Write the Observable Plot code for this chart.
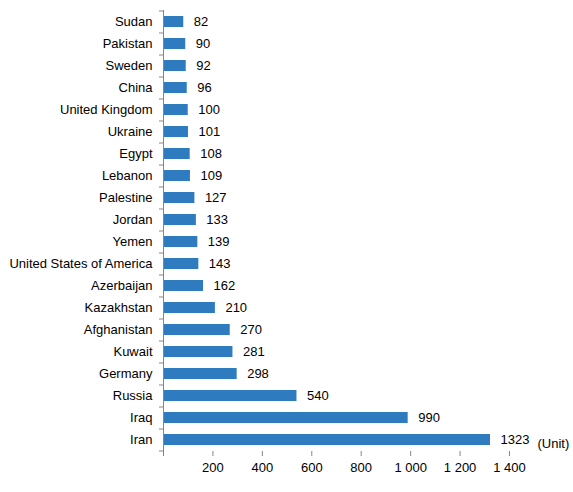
<!DOCTYPE html>
<html>
<head>
<meta charset="utf-8">
<script src="https://cdn.jsdelivr.net/npm/d3@7"></script>
<script src="https://cdn.jsdelivr.net/npm/@observablehq/plot@0.6"></script>
<style>
  body { margin: 0; background: #fff; }
  #chart svg { font-family: Arial, "Liberation Sans", sans-serif; }
</style>
</head>
<body>
<div id="chart"></div>
<script>
// countries top to bottom, with their counts
let countries = ["Sudan", "Pakistan", "Sweden", "China", "United Kingdom", "Ukraine", "Egypt",
  "Lebanon", "Palestine", "Jordan", "Yemen", "United States of America", "Azerbaijan",
  "Kazakhstan", "Afghanistan", "Kuwait", "Germany", "Russia", "Iraq", "Iran"]
let values = [82, 90, 92, 96, 100, 101, 108, 109, 127, 133, 139, 143, 162, 210, 270, 281, 298, 540, 990, 1323]
let xTicks = [0, 200, 400, 600, 800, 1000, 1200, 1400]
let unitLabel = "(Unit)"

let data = countries.map((c, i) => ({country: c, value: values[i]}))

const fmt = d3.formatLocale({decimal: ".", thousands: " ", grouping: [3], currency: ["", ""]}).format(",")
const grey = "#868686"

let chart = Plot.plot({
  width: 573,
  height: 492,
  marginLeft: 163,
  marginRight: 64,
  marginTop: 10,
  marginBottom: 41,
  style: {fontSize: "13px", color: "#000"},
  x: {domain: [0, 1400]},
  y: {domain: countries, paddingInner: 0.5, paddingOuter: 0.25},
  marks: [
    Plot.barX(data, {x: "value", y: "country", fill: "#2f7bbf"}),
    Plot.text(data, {x: "value", y: "country", text: d => String(d.value), dx: 10, textAnchor: "start", fontSize: 13, fill: "#000"}),
    // country labels
    Plot.axisY({tickSize: 0, tickPadding: 11, label: null, fontSize: 13, fill: "#000"}),
    // ticks at category boundaries
    Plot.axisY({tickSize: 4, tickFormat: null, dy: -11, stroke: grey, label: null}),
    Plot.axisY({ticks: [countries[countries.length - 1]], tickSize: 4, tickFormat: null, dy: 11, stroke: grey, label: null}),
    Plot.ruleX([0], {stroke: grey}),
    Plot.axisX({ticks: xTicks, tickSize: 5, tickPadding: 6, stroke: grey, line: true, label: null,
      tickFormat: d => d === 0 ? "" : fmt(d), fontSize: 13, fill: "#000"}),
    Plot.text([unitLabel], {frameAnchor: "bottom-right", textAnchor: "start", dx: 28, dy: -4, fontSize: 13, fill: "#000"})
  ]
})

d3.select('#chart').append(() => chart)
</script>
</body>
</html>
